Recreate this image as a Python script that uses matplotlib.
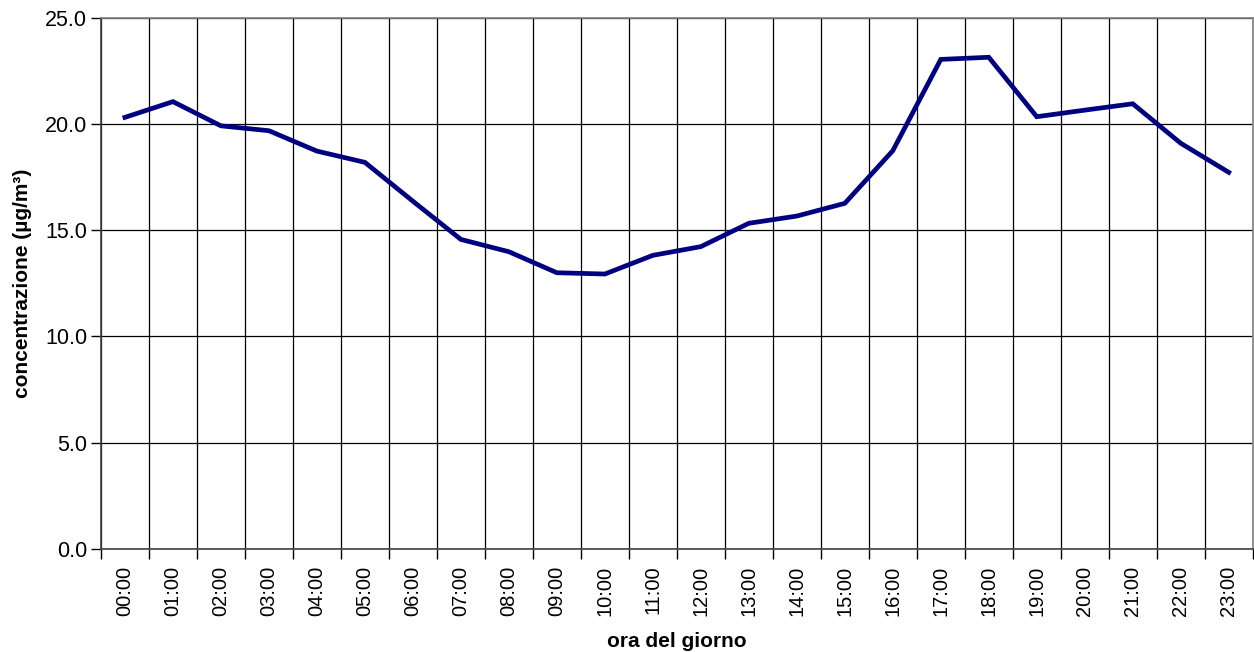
import numpy as np
import matplotlib.pyplot as plt
from matplotlib.ticker import FixedLocator, MultipleLocator

plt.rcParams['font.family'] = ['Liberation Sans', 'DejaVu Sans']

# ore del giorno e concentrazioni medie orarie
ore = ['%02d:00' % h for h in range(24)]
conc = [20.32, 21.06, 19.92, 19.69, 18.73, 18.20, 16.37, 14.57, 13.99, 13.00,
        12.94, 13.82, 14.23, 15.33, 15.67, 16.27, 18.75, 23.05, 23.15, 20.35,
        20.66, 20.96, 19.10, 17.73]

fig = plt.figure(figsize=(12.54, 6.52), dpi=100)
ax = fig.add_axes([0.0805, 0.1584, 0.9185, 0.814])

x = np.arange(len(ore))
ax.plot(x, conc, color='#000080', lw=3.4, solid_joinstyle='miter', zorder=3)

ax.set_xlim(-0.5, len(ore) - 0.5)
ax.set_ylim(0, 25)

ax.set_xticks(x)
ax.set_xticklabels(ore, rotation=90, fontsize=14.5)
ax.tick_params(axis='x', which='major', length=0, pad=12)
ax.xaxis.set_minor_locator(FixedLocator(np.arange(-0.5, len(ore), 1.0)))
ax.tick_params(axis='x', which='minor', length=7, width=1, color='black')

ax.yaxis.set_major_locator(MultipleLocator(5))
ax.set_yticklabels(['%.1f' % v for v in ax.get_yticks()], fontsize=15.5)
ax.tick_params(axis='y', length=7, width=1, color='black', pad=3)

ax.grid(True, axis='y', which='major', color='black', lw=0.9)
ax.grid(True, axis='x', which='minor', color='black', lw=0.9)
ax.set_axisbelow(True)

for s in ['top', 'right']:
    ax.spines[s].set_color('#808080')
    ax.spines[s].set_linewidth(1.2)
for s in ['left', 'bottom']:
    ax.spines[s].set_color('#404040')
    ax.spines[s].set_linewidth(1.2)

ax.set_xlabel('ora del giorno', fontsize=15, fontweight='bold', labelpad=12)
ax.set_ylabel('concentrazione (µg/m³)', fontsize=15, fontweight='bold', labelpad=9)

fig.savefig('out.png', dpi=100)
